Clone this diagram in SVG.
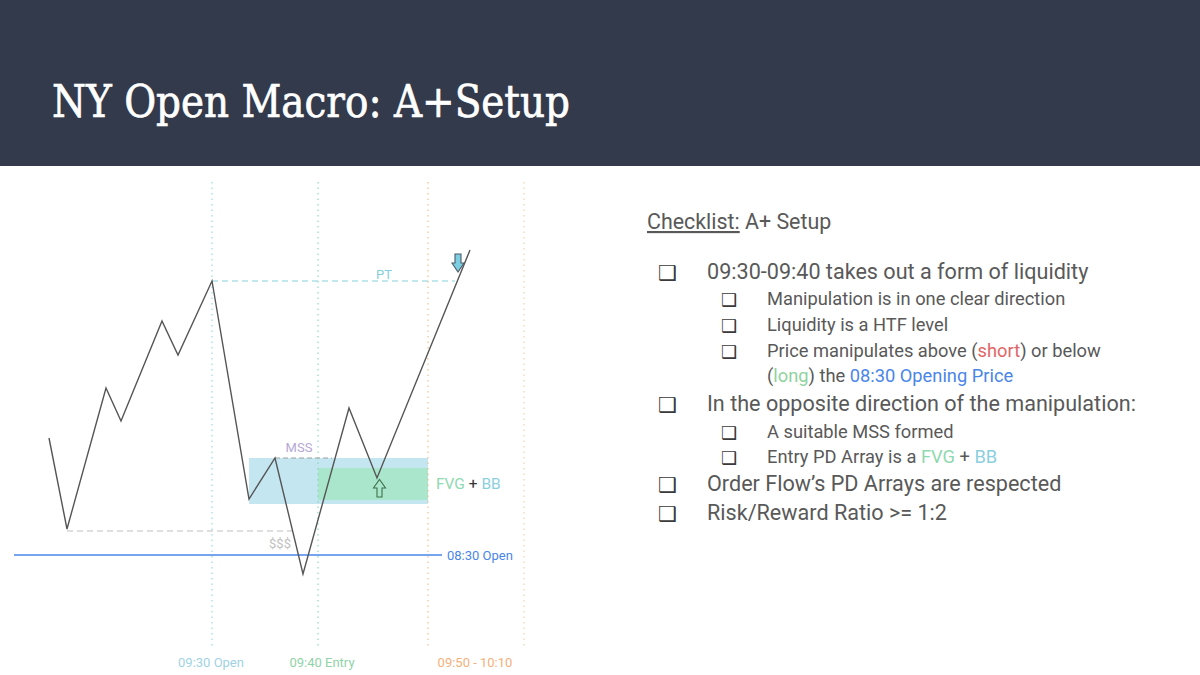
<svg xmlns="http://www.w3.org/2000/svg" width="1200" height="675" viewBox="0 0 1200 675">
  <defs>
    <style>
      .vline { stroke-width: 1; stroke-dasharray: 1.5 4; fill: none; }
      .price { fill: none; stroke: #555555; stroke-width: 1.4; stroke-linejoin: miter; }
      .main { font-family: Roboto, "Liberation Sans", sans-serif; font-size: 21.6px; fill: #595959; }
      .sub { font-family: Roboto, "Liberation Sans", sans-serif; font-size: 18.3px; fill: #595959; }
      .bul { font-family: "DejaVu Sans", sans-serif; fill: #3a3a3a; }
      .lbl { font-family: Roboto, "Liberation Sans", sans-serif; font-size: 13px; }
    </style>
  </defs>
  <rect width="1200" height="675" fill="#ffffff"/>
  <g id="header">
    <rect x="0" y="0" width="1200" height="166" fill="#323a4c"/>
    <text x="52" y="117" font-family="'DejaVu Serif', 'Liberation Serif', serif" font-size="44" fill="#ffffff" stroke="#ffffff" stroke-width="0.7" textLength="518" lengthAdjust="spacingAndGlyphs">NY Open Macro: A+Setup</text>
  </g>

  <g id="chart">
    <g id="zones">
      <rect x="249" y="458" width="179" height="46" fill="#c4e6f0"/>
      <rect x="318" y="468" width="110" height="32" fill="#a9e6cc"/>
    </g>
    <g id="time-lines">
      <line class="vline" x1="212" y1="182" x2="212" y2="648" stroke="#86d0dc"/>
      <line class="vline" x1="318" y1="182" x2="318" y2="648" stroke="#7fcfb8"/>
      <line class="vline" x1="428" y1="182" x2="428" y2="648" stroke="#f2b27a"/>
      <line class="vline" x1="524" y1="182" x2="524" y2="648" stroke="#f2c89e"/>
    </g>
    <g id="levels">
      <line x1="212" y1="281" x2="455" y2="281" stroke="#86cfdc" stroke-width="1.2" stroke-dasharray="6 4"/>
      <line x1="275" y1="458" x2="332" y2="458" stroke="#a0a0a0" stroke-width="1.2" stroke-dasharray="5 3"/>
      <line x1="67" y1="531" x2="293" y2="531" stroke="#c0c0c0" stroke-width="1.2" stroke-dasharray="6 4"/>
      <line x1="14" y1="555" x2="442" y2="555" stroke="#4a86e8" stroke-width="1.3"/>
    </g>
    <g id="price-path">
      <polyline class="price" points="49,438 67,529 106,388 121,421 162,321 178,355 212,281 249,499 275,458 303,574 349,408 377,478 470,250"/>
    </g>
    <g id="arrows">
      <path d="M455,254 L461,254 L461,263 L464,263 L458,272 L452,263 L455,263 Z" fill="#7ccfe2" stroke="#4d5b66" stroke-width="1.1"/>
      <path d="M377,497 L382,497 L382,488 L385.5,488 L379.5,479.5 L373.5,488 L377,488 Z" fill="#a9e6cc" stroke="#3f6f4a" stroke-width="1.1"/>
    </g>
    <g id="chart-labels">
      <text class="lbl" x="384" y="279" text-anchor="middle" fill="#86cfdc">PT</text>
      <text class="lbl" x="299" y="452" text-anchor="middle" fill="#b4a7d6">MSS</text>
      <text class="lbl" x="280" y="548" text-anchor="middle" fill="#c0c0c0">$$$</text>
      <text class="lbl" x="447" y="560" fill="#4a86e8">08:30 Open</text>
      <text x="436" y="489" font-family="Roboto, 'Liberation Sans', sans-serif" font-size="15.5"><tspan fill="#8fd9b0">FVG</tspan><tspan fill="#333333"> + </tspan><tspan fill="#8ccfe0">BB</tspan></text>
      <text class="lbl" x="211" y="667" text-anchor="middle" fill="#9fd3e4">09:30 Open</text>
      <text class="lbl" x="322" y="667" text-anchor="middle" fill="#8fd3a8">09:40 Entry</text>
      <text class="lbl" x="475" y="667" text-anchor="middle" fill="#f6b07a">09:50 - 10:10</text>
    </g>
  </g>

  <g id="checklist">
    <text x="647" y="229" font-family="Roboto, 'Liberation Sans', sans-serif" font-size="21.4" fill="#595959"><tspan text-decoration="underline">Checklist:</tspan> A+ Setup</text>

    <text class="bul" x="658" y="280" font-size="21">❑</text>
    <text class="main" x="707" y="279">09:30-09:40 takes out a form of liquidity</text>

    <text class="bul" x="721" y="306" font-size="18">❑</text>
    <text class="sub" x="767" y="305">Manipulation is in one clear direction</text>
    <text class="bul" x="721" y="332" font-size="18">❑</text>
    <text class="sub" x="767" y="331">Liquidity is a HTF level</text>
    <text class="bul" x="721" y="358" font-size="18">❑</text>
    <text class="sub" x="767" y="357">Price manipulates above (<tspan fill="#e06666">short</tspan>) or below</text>
    <text class="sub" x="767" y="382">(<tspan fill="#8fd3a0">long</tspan>) the <tspan fill="#4a86e8">08:30 Opening Price</tspan></text>

    <text class="bul" x="658" y="412" font-size="21">❑</text>
    <text class="main" x="707" y="411">In the opposite direction of the manipulation:</text>

    <text class="bul" x="721" y="439" font-size="18">❑</text>
    <text class="sub" x="767" y="438">A suitable MSS formed</text>
    <text class="bul" x="721" y="464" font-size="18">❑</text>
    <text class="sub" x="767" y="463">Entry PD Array is a <tspan fill="#8fd9b0">FVG</tspan> + <tspan fill="#8ccfe0">BB</tspan></text>

    <text class="bul" x="658" y="492" font-size="21">❑</text>
    <text class="main" x="707" y="491">Order Flow’s PD Arrays are respected</text>
    <text class="bul" x="658" y="521" font-size="21">❑</text>
    <text class="main" x="707" y="520">Risk/Reward Ratio &gt;= 1:2</text>
  </g>
</svg>
